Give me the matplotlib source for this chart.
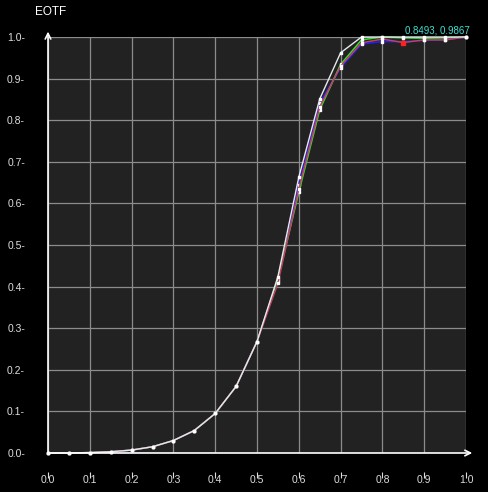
import matplotlib
matplotlib.use("Agg")
import matplotlib.pyplot as plt
from matplotlib.transforms import ScaledTranslation

plt.rcParams['font.family'] = ['Liberation Sans', 'DejaVu Sans']

# signal level (input)
x = [0.0, 0.05, 0.1, 0.15, 0.2, 0.25, 0.3, 0.35, 0.4, 0.45, 0.5,
     0.55, 0.6, 0.65, 0.7, 0.75, 0.8, 0.85, 0.9, 0.95, 1.0]

low = [0.0, 0.0, 0.001, 0.003, 0.007, 0.015, 0.03, 0.054, 0.095, 0.16, 0.268]

eotf_white = low + [0.424, 0.663, 0.851, 0.962, 1.0, 1.0, 1.0, 1.0, 1.0, 1.0]
eotf_green = low + [0.418, 0.627, 0.825, 0.934, 0.993, 1.0, 0.998, 0.997, 0.998, 1.0]
eotf_blue = low + [0.414, 0.644, 0.841, 0.926, 0.983, 0.989, 0.989, 0.992, 0.993, 1.0]
eotf_red = low + [0.408, 0.635, 0.832, 0.93, 0.986, 0.995, 0.9867, 0.993, 0.993, 1.0]

cursor_label = "0.8493, 0.9867"
cursor_idx = 17

xticks = [0.0, 0.1, 0.2, 0.3, 0.4, 0.5, 0.6, 0.7, 0.8, 0.9, 1.0]
yticks = [0.0, 0.1, 0.2, 0.3, 0.4, 0.5, 0.6, 0.7, 0.8, 0.9, 1.0]

fig = plt.figure(figsize=(4.88, 4.92), dpi=100, facecolor='black')
ax = fig.add_axes([48 / 488, 39 / 492, 418 / 488, 416 / 492])
ax.set_facecolor('#222222')

ax.set_xlim(0, 1)
ax.set_ylim(0, 1)

ax.set_xticks(xticks)
ax.set_yticks(yticks)
ax.grid(True, color='#8c8c8c', linewidth=0.9)
ax.set_axisbelow(True)

# lines
ms = 1.7
ax.plot(x, eotf_blue, color='#2020ff', linewidth=1.1, marker='s', markersize=ms,
        markerfacecolor='white', markeredgecolor='white', clip_on=False)
ax.plot(x, eotf_green, color='#30e030', linewidth=1.1, marker='s', markersize=ms,
        markerfacecolor='white', markeredgecolor='white', clip_on=False)
ax.plot(x, eotf_red, color='#c04060', linewidth=1.1, marker='s', markersize=ms,
        markerfacecolor='white', markeredgecolor='white', clip_on=False)
ax.plot(x, eotf_white, color='#e8e8f0', linewidth=1.0, marker='s', markersize=ms,
        markerfacecolor='white', markeredgecolor='white', clip_on=False)

# cursor point
ax.plot(x[cursor_idx], eotf_red[cursor_idx], marker='s', markersize=3,
        color='#ff2020', clip_on=False)
ax.text(x[cursor_idx] + 0.004, 1.003, cursor_label, color='#40e0d0',
        fontsize=7, va='bottom', ha='left')

# axes with arrows
for s in ax.spines.values():
    s.set_visible(False)
ax.annotate('', xy=(1.015, 0), xytext=(0, 0), xycoords='axes fraction',
            arrowprops=dict(arrowstyle='->', color='white', lw=1.2, shrinkA=0, shrinkB=0))
ax.annotate('', xy=(0, 1.013), xytext=(0, 0), xycoords='axes fraction',
            arrowprops=dict(arrowstyle='->', color='white', lw=1.2, shrinkA=0, shrinkB=0))

# tick labels
ax.set_xticklabels(['%.1f' % v for v in xticks])
ax.set_yticklabels(['%.1f-' % v for v in yticks])
ax.tick_params(axis='x', colors='#dddddd', labelsize=7.5, direction='out',
               length=4, width=0.8, pad=-2)
ax.tick_params(axis='y', colors='#dddddd', labelsize=7.5, length=0, pad=16.5)
offset = ScaledTranslation(0, -19 / 100, fig.dpi_scale_trans)
for t in ax.xaxis.get_major_ticks():
    t.tick1line.set_transform(t.tick1line.get_transform() + offset)
    t.label1.set_transform(t.label1.get_transform() + offset)

fig.text(35 / 488, 1 - 12 / 492, 'EOTF', color='white', fontsize=8.5,
         va='center', ha='left')

fig.savefig('out.png', dpi=100, facecolor='black')
